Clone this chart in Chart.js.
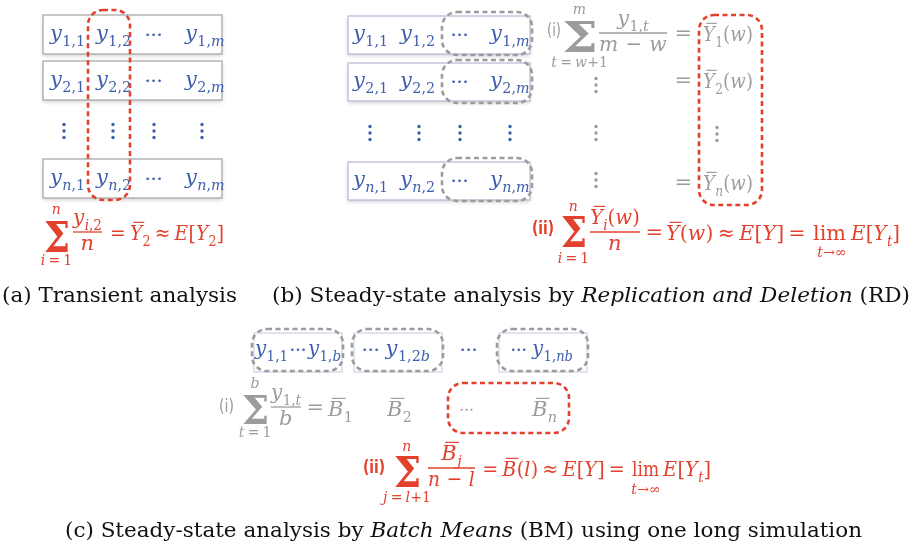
<!DOCTYPE html>
<html>
<head>
<meta charset="utf-8">
<script src="https://cdn.jsdelivr.net/npm/chart.js@4.4.1/dist/chart.umd.min.js"></script>
<style>
  html, body { margin: 0; padding: 0; background: #fff; }
  #wrap { width: 917px; height: 549px; }
</style>
</head>
<body>
<div id="wrap"><canvas id="diagram" width="917" height="549"></canvas></div>
<script>
// ---- content (text only) ----
var rowIdx = ['1', '2', 'n'];
var colIdx = ['1', '2', 'm'];
var rdMeans = ['\\bar{Y}_{1}(w)', '\\bar{Y}_{2}(w)', '\\bar{Y}_{n}(w)'];
var batchCells = ['y_{1,1}⋯y_{1,b}', '⋯ y_{1,2b}', '⋯ y_{1,nb}'];
var batchMeans = ['\\bar{B}_{1}', '\\bar{B}_{2}', '\\bar{B}_{n}'];
var captionA = [['(a) Transient analysis', false]];
var captionB = [['(b) Steady-state analysis by ', false], ['Replication and Deletion', true], [' (RD)', false]];
var captionC = [['(c) Steady-state analysis by ', false], ['Batch Means', true], [' (BM) using one long simulation', false]];

var BLUE = '#3f5fae', RED = '#e2412e', GRAY = '#9c9c9c', BOXA = '#a9a9a9', BOXB = '#b7bed6';
var MATH = "'DejaVu Serif', serif";
var CELL = 21, EXPR = 21;

// ---- tiny math text renderer ----
function parse(s, lv, rm) {
  var out = [], i = 0;
  function group() {
    if (s[i] === '{') {
      var d = 1, j = i + 1;
      while (j < s.length && d > 0) { if (s[j] === '{') d++; else if (s[j] === '}') d--; j++; }
      var g = s.slice(i + 1, j - 1); i = j; return g;
    }
    var ch = s[i]; i++; return ch;
  }
  while (i < s.length) {
    var c = s[i];
    if (c === '_' || c === '^') {
      i++;
      parse(group(), c === '_' ? -1 : 1, rm).forEach(function (t) { out.push(t); });
      continue;
    }
    if (c === '\\') {
      var j = i + 1;
      while (j < s.length && /[a-z]/.test(s[j])) j++;
      var cmd = s.slice(i + 1, j); i = j;
      var sub = parse(group(), lv, cmd === 'rm');
      if (cmd === 'bar') sub.forEach(function (t) { t.bar = true; });
      sub.forEach(function (t) { out.push(t); });
      continue;
    }
    out.push({ t: c, lv: lv, it: !rm && /[A-Za-z]/.test(c) });
    i++;
  }
  return out;
}
function fontFor(it, size) {
  var s = it.lv ? size * 0.68 : size;
  return (it.it ? 'italic ' : '') + Math.round(s * 10) / 10 + 'px ' + MATH;
}
function layout(ctx, str, size) {
  var list = parse(str, 0, false), x = 0;
  list.forEach(function (it) {
    var s = it.lv ? size * 0.68 : size, pad = 0;
    if ('=≈'.indexOf(it.t) >= 0) pad = it.lv ? s * 0.05 : s * 0.22;
    if (it.t === '−') pad = it.lv ? 0 : s * 0.14;
    if (it.t === ' ') { it.x = x; it.w = s * 0.2; x += it.w; return; }
    if (it.t === '⋯') { it.x = x + s * 0.08; it.w = s * 0.85; x += it.w + s * 0.16; return; }
    ctx.font = fontFor(it, size);
    var w = ctx.measureText(it.t).width;
    it.x = x + pad; it.w = w; x += w + 2 * pad;
    if (it.it && !it.lv) x += s * 0.02;
  });
  return { list: list, width: x };
}
function drawExpr(ctx, str, x0, base, size, color, x1) {
  var L = layout(ctx, str, size);
  var sx = x1 ? (x1 - x0) / L.width : 1;
  ctx.save();
  ctx.translate(x0, base); ctx.scale(sx, 1);
  ctx.fillStyle = color; ctx.strokeStyle = color; ctx.textBaseline = 'alphabetic';
  L.list.forEach(function (it) {
    var s = it.lv ? size * 0.68 : size;
    var dy = it.lv < 0 ? size * 0.27 : (it.lv > 0 ? -size * 0.38 : 0);
    if (it.t === ' ') return;
    if (it.t === '⋯') {
      for (var k = 0; k < 3; k++) {
        ctx.beginPath(); ctx.arc(it.x + it.w * (k + 0.5) / 3, dy - s * 0.25, s * 0.065, 0, 2 * Math.PI); ctx.fill();
      }
      return;
    }
    ctx.font = fontFor(it, size);
    ctx.fillText(it.t, it.x, dy);
    if (it.bar) {
      var off = it.it ? s * 0.14 : 0;
      ctx.lineWidth = s * 0.055;
      ctx.beginPath(); ctx.moveTo(it.x + off + s * 0.04, dy - s * 0.84); ctx.lineTo(it.x + off + it.w * 0.95, dy - s * 0.84); ctx.stroke();
    }
  });
  ctx.restore();
  return L.width * sx;
}
function drawCentered(ctx, str, cx, base, size, color, maxW) {
  var w = layout(ctx, str, size).width;
  if (maxW && w > maxW) { drawExpr(ctx, str, cx - maxW / 2, base, size, color, cx + maxW / 2); return; }
  drawExpr(ctx, str, cx - w / 2, base, size, color);
}
function fitGlyph(ctx, ch, x0, y0, x1, y1, color) {
  ctx.save();
  ctx.font = 'bold 60px ' + MATH;
  var m = ctx.measureText(ch);
  var w = m.actualBoundingBoxLeft + m.actualBoundingBoxRight;
  var h = m.actualBoundingBoxAscent + m.actualBoundingBoxDescent;
  ctx.translate(x0, y0); ctx.scale((x1 - x0) / w, (y1 - y0) / h);
  ctx.fillStyle = color;
  ctx.fillText(ch, m.actualBoundingBoxLeft, m.actualBoundingBoxAscent);
  ctx.restore();
}
function vdots(ctx, cx, cy, color) {
  ctx.fillStyle = color;
  for (var k = -1; k <= 1; k++) { ctx.beginPath(); ctx.arc(cx, cy + k * 6.5, 1.7, 0, 2 * Math.PI); ctx.fill(); }
}
function dashedBox(ctx, x, y, w, h, color) {
  ctx.save();
  ctx.strokeStyle = color; ctx.lineWidth = 2.6; ctx.setLineDash([5, 3.5]);
  ctx.beginPath(); ctx.roundRect(x, y, w, h, 15); ctx.stroke();
  ctx.restore();
}
function rowBox(ctx, x, y, w, h, color, shadow) {
  ctx.save();
  ctx.fillStyle = '#fff'; ctx.strokeStyle = color; ctx.lineWidth = 1.3;
  if (shadow) { ctx.shadowColor = 'rgba(0,0,0,0.18)'; ctx.shadowBlur = 4; ctx.shadowOffsetY = 1.5; }
  ctx.fillRect(x, y, w, h);
  ctx.shadowColor = 'transparent';
  ctx.strokeRect(x, y, w, h);
  ctx.restore();
}
function label(ctx, txt, x0, x1, cy, color, bold) {
  ctx.save();
  ctx.font = (bold ? 'bold ' : '') + "17px 'DejaVu Sans', sans-serif";
  var w = ctx.measureText(txt).width;
  ctx.translate(x0, cy); ctx.scale((x1 - x0) / w, 1);
  ctx.fillStyle = color; ctx.textBaseline = 'middle';
  ctx.fillText(txt, 0, 0);
  ctx.restore();
}
function caption(ctx, segs, x0, x1, base) {
  ctx.save();
  var total = 0;
  segs.forEach(function (s) { ctx.font = (s[1] ? 'italic ' : '') + '21px ' + MATH; total += ctx.measureText(s[0]).width; });
  ctx.translate(x0, base); ctx.scale((x1 - x0) / total, 1);
  ctx.fillStyle = '#111';
  var x = 0;
  segs.forEach(function (s) {
    ctx.font = (s[1] ? 'italic ' : '') + '21px ' + MATH;
    ctx.fillText(s[0], x, 0); x += ctx.measureText(s[0]).width;
  });
  ctx.restore();
}
function sumSign(ctx, X, Y, x0, y0, x1, y1, top, bottom, topY, botY, color) {
  fitGlyph(ctx, 'Σ', X(x0), Y(y0), X(x1), Y(y1), color);
  var cx = X((x0 + x1) / 2);
  drawCentered(ctx, top, cx, Y(topY) + 5, 14, color);
  drawCentered(ctx, bottom, cx, Y(botY) + 5, 14, color);
}
function frac(ctx, X, Y, num, den, lx0, lx1, axis, color) {
  var cx = X((lx0 + lx1) / 2), maxW = X(lx1) - X(lx0);
  drawCentered(ctx, num, cx, Y(axis) - 8, EXPR, color, maxW);
  drawCentered(ctx, den, cx, Y(axis) + 18, EXPR, color, maxW);
  ctx.save(); ctx.strokeStyle = color; ctx.lineWidth = 1.3;
  ctx.beginPath(); ctx.moveTo(X(lx0), Y(axis)); ctx.lineTo(X(lx1), Y(axis)); ctx.stroke();
  ctx.restore();
}

var diagramPlugin = {
  id: 'diagram',
  afterDraw: function (chart) {
    var ctx = chart.ctx;
    var X = function (v) { return chart.scales.x.getPixelForValue(v); };
    var Y = function (v) { return chart.scales.y.getPixelForValue(v); };
    var r, c;

    // (a) transient analysis
    var topsA = [15, 61, 159], cellXA = [50, 96, 0, 185];
    for (r = 0; r < 3; r++) {
      rowBox(ctx, X(43), Y(topsA[r]), 179, 39, BOXA, true);
      var bA = Y(topsA[r] + 25);
      drawExpr(ctx, 'y_{' + rowIdx[r] + ',' + colIdx[0] + '}', X(cellXA[0]), bA, CELL, BLUE);
      drawExpr(ctx, 'y_{' + rowIdx[r] + ',' + colIdx[1] + '}', X(cellXA[1]), bA, CELL, BLUE);
      drawExpr(ctx, '⋯', X(143), bA, CELL, BLUE);
      drawExpr(ctx, 'y_{' + rowIdx[r] + ',' + colIdx[2] + '}', X(cellXA[3]), bA, CELL, BLUE);
    }
    [64, 113, 154, 202].forEach(function (x) { vdots(ctx, X(x), Y(131), BLUE); });
    dashedBox(ctx, X(88), Y(10), 42, 190, RED);
    sumSign(ctx, X, Y, 45, 220, 68, 252, 'n', 'i=1', 209, 260, RED);
    frac(ctx, X, Y, 'y_{i,2}', 'n', 73, 102, 232, RED);
    drawExpr(ctx, '=\\bar{Y}_{2}≈E[Y_{2}]', X(106), Y(240), EXPR, RED, X(224));

    // (b) replication and deletion
    var topsB = [16, 63, 162], dashTopsB = [12, 60, 158], cellXB = [353, 400, 0, 490];
    for (r = 0; r < 3; r++) {
      rowBox(ctx, X(348), Y(topsB[r]), 182, 38, BOXB, true);
      var bB = Y(topsB[r] + 24);
      drawExpr(ctx, 'y_{' + rowIdx[r] + ',' + colIdx[0] + '}', X(cellXB[0]), bB, CELL, BLUE);
      drawExpr(ctx, 'y_{' + rowIdx[r] + ',' + colIdx[1] + '}', X(cellXB[1]), bB, CELL, BLUE);
      drawExpr(ctx, '⋯', X(449), bB, CELL, BLUE);
      drawExpr(ctx, 'y_{' + rowIdx[r] + ',' + colIdx[2] + '}', X(cellXB[3]), bB, CELL, BLUE);
      dashedBox(ctx, X(442), Y(dashTopsB[r]), 90, 43, GRAY);
    }
    [370, 419, 460, 510].forEach(function (x) { vdots(ctx, X(x), Y(133), BLUE); });

    label(ctx, '(i)', X(547), X(561), Y(32), GRAY, false);
    sumSign(ctx, X, Y, 564, 21, 595, 52, 'm', 't=w+1', 9, 62, GRAY);
    frac(ctx, X, Y, 'y_{1,t}', 'm − w', 599, 667, 33, GRAY);
    var meanBase = [41, 88, 190], eqY = [33, 80, 182];
    for (r = 0; r < 3; r++) {
      drawExpr(ctx, '=', X(670), Y(eqY[r] + 7), EXPR, GRAY);
      drawExpr(ctx, rdMeans[r], X(703), Y(meanBase[r]), EXPR, GRAY, X(753));
    }
    [85, 133, 180].forEach(function (y) { vdots(ctx, X(596), Y(y), GRAY); });
    vdots(ctx, X(717), Y(134), GRAY);
    dashedBox(ctx, X(699), Y(15), 63, 190, RED);

    label(ctx, '(ii)', X(532), X(554), Y(230), RED, true);
    sumSign(ctx, X, Y, 562, 215, 585, 247, 'n', 'i=1', 206, 258, RED);
    frac(ctx, X, Y, '\\bar{Y}_{i}(w)', 'n', 590, 640, 232, RED);
    drawExpr(ctx, '=', X(641), Y(239), EXPR, RED);
    drawExpr(ctx, '\\bar{Y}(w)≈E[Y]=', X(666), Y(240), EXPR, RED, X(810));
    drawExpr(ctx, '\\rm{lim}', X(813), Y(240), EXPR, RED, X(846));
    drawCentered(ctx, 't→∞', X(832), Y(257), 14, RED);
    drawExpr(ctx, 'E[Y_{t}]', X(851), Y(240), EXPR, RED, X(900));

    // (c) batch means
    var boxXC = [252, 352, 497], textXC = [255, 360, 509], textX1C = [341, 430, 573];
    for (c = 0; c < 3; c++) {
      ctx.save(); ctx.strokeStyle = '#c9cfe4'; ctx.lineWidth = 1.1;
      ctx.strokeRect(X(boxXC[c] + 2), Y(333), 88, 39); ctx.restore();
      dashedBox(ctx, X(boxXC[c]), Y(329), 91, 42, GRAY);
      drawExpr(ctx, batchCells[c], X(textXC[c]), Y(355), CELL, BLUE, X(textX1C[c]));
    }
    drawExpr(ctx, '⋯', X(458), Y(355), CELL, BLUE);

    label(ctx, '(i)', X(219), X(234), Y(408), GRAY, false);
    sumSign(ctx, X, Y, 243, 395, 267, 424, 'b', 't=1', 383, 432, GRAY);
    frac(ctx, X, Y, 'y_{1,t}', 'b', 271, 301, 407, GRAY);
    drawExpr(ctx, '=', X(302), Y(414), EXPR, GRAY);
    drawExpr(ctx, batchMeans[0], X(328), Y(416), EXPR, GRAY);
    drawExpr(ctx, batchMeans[1], X(387), Y(416), EXPR, GRAY);
    drawExpr(ctx, '⋯', X(458), Y(414), 17, GRAY);
    drawExpr(ctx, batchMeans[2], X(532), Y(416), EXPR, GRAY);
    dashedBox(ctx, X(448), Y(383), 121, 50, RED);

    label(ctx, '(ii)', X(363), X(385), Y(469), RED, true);
    sumSign(ctx, X, Y, 395, 455, 419, 487, 'n', 'j=l+1', 446, 497, RED);
    frac(ctx, X, Y, '\\bar{B}_{j}', 'n − l', 428, 475, 468, RED);
    drawExpr(ctx, '=\\bar{B}(l)≈E[Y]=', X(478), Y(476), EXPR, RED, X(629));
    drawExpr(ctx, '\\rm{lim}', X(632), Y(476), EXPR, RED, X(659));
    drawCentered(ctx, 't→∞', X(646), Y(494), 14, RED);
    drawExpr(ctx, 'E[Y_{t}]', X(663), Y(476), EXPR, RED, X(711));

    // captions
    caption(ctx, captionA, X(2), X(237), Y(302));
    caption(ctx, captionB, X(272), X(910), Y(302));
    caption(ctx, captionC, X(65), X(862), Y(537));
  }
};

new Chart(document.getElementById('diagram').getContext('2d'), {
  type: 'scatter',
  data: { datasets: [{ data: [], pointRadius: 0 }] },
  options: {
    responsive: false,
    animation: false,
    layout: { padding: 0 },
    plugins: { legend: { display: false }, tooltip: { enabled: false } },
    scales: {
      x: { type: 'linear', min: 0, max: 917, display: false },
      y: { type: 'linear', min: 0, max: 549, reverse: true, display: false }
    }
  },
  plugins: [diagramPlugin]
});
</script>
</body>
</html>
